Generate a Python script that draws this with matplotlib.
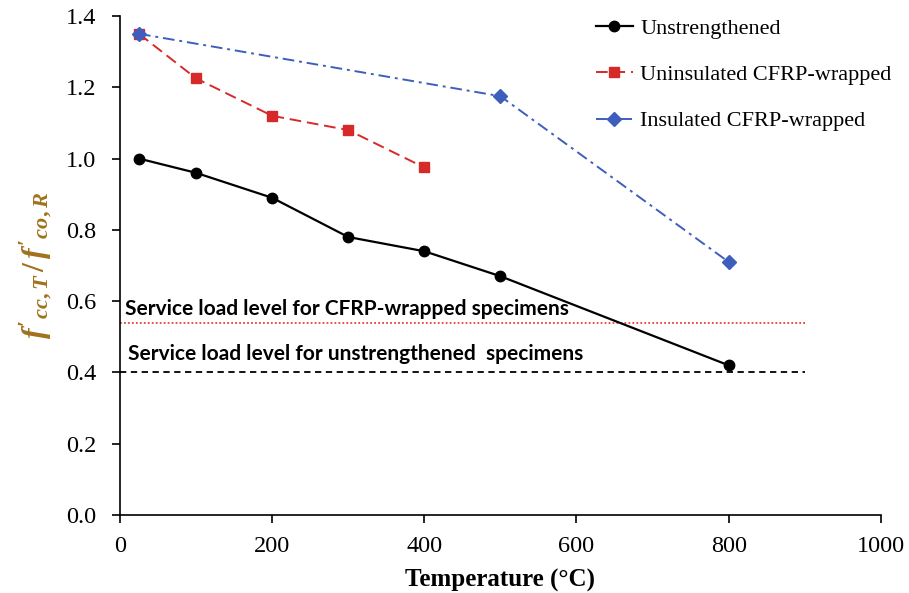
import numpy as np
import matplotlib.pyplot as plt

plt.rcParams['font.family'] = ['Liberation Serif', 'DejaVu Serif']
plt.rcParams['mathtext.fontset'] = 'custom'
plt.rcParams['mathtext.it'] = 'Liberation Serif:italic:bold'
plt.rcParams['mathtext.rm'] = 'Liberation Serif:bold'

# strength ratio vs exposure temperature
temp_unstr = [25, 100, 200, 300, 400, 500, 800]
ratio_unstr = [1.00, 0.96, 0.89, 0.78, 0.74, 0.67, 0.42]

temp_unins = [25, 100, 200, 300, 400]
ratio_unins = [1.35, 1.225, 1.12, 1.08, 0.975]

temp_ins = [25, 500, 800]
ratio_ins = [1.35, 1.175, 0.71]

service_cfrp = 0.54
service_unstr = 0.40
service_span = [0, 900]

fig = plt.figure(figsize=(9.09, 5.93), dpi=100)
ax = fig.add_axes([0.132, 0.1315, 0.837, 0.8415])

ax.plot(service_span, [service_cfrp, service_cfrp], color='#E8413A', linestyle=(0, (1, 1.2)), linewidth=1.3)
ax.plot(service_span, [service_unstr, service_unstr], color='black', linestyle=(0, (3.5, 2.5)), linewidth=1.3)

ax.plot(temp_unstr, ratio_unstr, color='black', marker='o', markersize=7.5, linewidth=1.6,
        label='Unstrengthened')
ax.plot(temp_unins, ratio_unins, color='#D62A2A', marker='s', markersize=6.5, linewidth=1.4,
        linestyle=(0, (6, 3)), label='Uninsulated CFRP-wrapped')
ax.plot(temp_ins, ratio_ins, color='#3E5EBE', marker='D', markersize=7, linewidth=1.4,
        linestyle=(0, (6, 2.5, 1.5, 2.5)), label='Insulated CFRP-wrapped')

ax.text(7, 0.578, 'Service load level for CFRP-wrapped specimens', family='Lato',
        fontweight='bold', fontsize=15, va='center')
ax.text(11, 0.452, 'Service load level for unstrengthened  specimens', family='Lato',
        fontweight='bold', fontsize=15, va='center')

ax.set_xlim(0, 1000)
ax.set_ylim(0, 1.4)
ax.set_xticks(np.arange(0, 1001, 200))
ax.set_yticks(np.arange(0, 1.41, 0.2))
ax.yaxis.set_major_formatter(plt.FormatStrFormatter('%.1f'))
ax.tick_params(labelsize=17.5, length=6, width=1.2, direction='out')
ax.tick_params(axis='x', pad=9)
ax.tick_params(axis='y', pad=11)
for side in ['top', 'right']:
    ax.spines[side].set_visible(False)
for side in ['left', 'bottom']:
    ax.spines[side].set_linewidth(1.2)

ax.set_xlabel('Temperature (°C)', fontsize=18, fontweight='bold', labelpad=9)
ax.set_ylabel(r"$f'_{cc,T}\,/\,f'_{co,R}$", fontsize=23, color='#A0721E', labelpad=8)

ax.legend(loc='upper right', bbox_to_anchor=(1.04, 1.035), frameon=False, fontsize=16,
          handlelength=1.7, handletextpad=0.3, labelspacing=1.15)

fig.savefig('out.png', dpi=100)
